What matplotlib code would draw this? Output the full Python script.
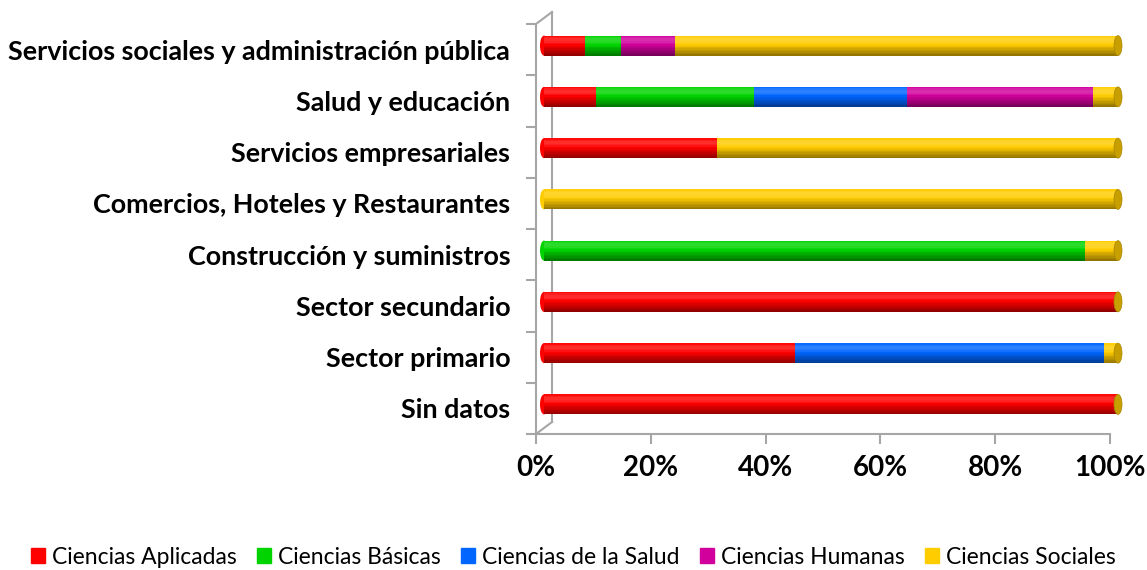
import numpy as np
import matplotlib
matplotlib.use("Agg")
import matplotlib.pyplot as plt
from matplotlib.patches import Ellipse
from matplotlib.transforms import ScaledTranslation

categories = [
    "Sin datos",
    "Sector primario",
    "Sector secundario",
    "Construcción y suministros",
    "Comercios, Hoteles y Restaurantes",
    "Servicios empresariales",
    "Salud y educación",
    "Servicios sociales y administración pública",
]

series_names = [
    "Ciencias Aplicadas",
    "Ciencias Básicas",
    "Ciencias de la Salud",
    "Ciencias Humanas",
    "Ciencias Sociales",
]

# percentage per category (same order as categories)
aplicadas = [100, 43.8, 100, 0, 0, 30.2, 9.1, 7.2]
basicas = [0, 0, 0, 94.2, 0, 0, 27.4, 6.2]
salud = [0, 53.8, 0, 0, 0, 0, 26.7, 0]
humanas = [0, 0, 0, 0, 0, 0, 32.4, 9.5]
sociales = [0, 2.4, 0, 5.8, 100, 69.8, 4.4, 77.1]

colors = ["#ff0000", "#00d400", "#0066ff", "#d1009c", "#ffcc00"]
cap_color = "#c79f00"
axis_gray = "#a6a6a6"

plt.rcParams["font.family"] = ["Lato", "DejaVu Sans"]

fig = plt.figure(figsize=(11.47, 5.70), dpi=100)
ax = fig.add_axes([536 / 1147, 136 / 570, 574 / 1147, 410 / 570])

ax.set_xlim(0, 100)
ax.set_ylim(-0.5, len(categories) - 0.5)

# bars sit half way into the 3D depth
bar_shift = ax.transData + ScaledTranslation(8 / 100, 4 / 100, fig.dpi_scale_trans)
BAR_H = 0.39

data = np.array([aplicadas, basicas, salud, humanas, sociales])
y = np.arange(len(categories))
lefts = np.zeros(len(categories))

px_per_x = 574 / 100
cap_w = 8 / px_per_x

for i, vals in enumerate(data):
    ax.barh(y, vals, left=lefts, height=BAR_H, color=colors[i],
            transform=bar_shift, linewidth=0, zorder=3, clip_on=False)
    lefts = lefts + vals

# cylinder-like shading
n_bands = 14
edges = np.linspace(-BAR_H / 2, BAR_H / 2, n_bands + 1)
for k in range(n_bands):
    t = (k + 0.5) / n_bands  # 0 bottom -> 1 top
    if t < 0.55:
        col, a = "black", 0.45 * (0.55 - t) / 0.55
    else:
        col, a = "white", 0.18 * np.sin((t - 0.55) / 0.45 * np.pi)
    h = edges[k + 1] - edges[k]
    ax.barh(y + (edges[k] + edges[k + 1]) / 2, lefts, height=h, color=col,
            alpha=a, transform=bar_shift, linewidth=0, zorder=4, clip_on=False)

# rounded left ends and right caps
for yi in y:
    first = colors[int(np.argmax(data[:, yi] > 0))]
    ax.add_patch(Ellipse((0, yi), cap_w, BAR_H, color=first,
                         transform=bar_shift, zorder=2, linewidth=0,
                         clip_on=False))
    ax.add_patch(Ellipse((100, yi), cap_w, BAR_H, facecolor=cap_color,
                         edgecolor="#a88600", linewidth=0.5,
                         transform=bar_shift, zorder=5, clip_on=False))

# front axes
for side in ["top", "right"]:
    ax.spines[side].set_visible(False)
for side in ["left", "bottom"]:
    ax.spines[side].set_color(axis_gray)
    ax.spines[side].set_linewidth(1.5)

# back wall of the 3D box
back = ax.transData + ScaledTranslation(16 / 100, 12 / 100, fig.dpi_scale_trans)
ytop = len(categories) - 0.5
ax.plot([0, 0], [-0.5, ytop], color=axis_gray, lw=1.5, transform=back,
        clip_on=False, zorder=1)
inv = ax.transData.inverted()
for yy in [-0.5, ytop]:
    p1 = inv.transform(back.transform((0, yy)))
    ax.plot([0, p1[0]], [yy, p1[1]], color=axis_gray, lw=1.5,
            clip_on=False, zorder=1)

ax.set_yticks(y)
ax.set_yticklabels(categories, fontsize=19.4, fontweight="bold")
ax.set_yticks(np.arange(-0.5, len(categories)), minor=True)
ax.tick_params(axis="y", which="major", length=0, pad=18.5)
ax.tick_params(axis="y", which="minor", length=7, width=1.5, color=axis_gray)

ax.set_xticks(np.arange(0, 101, 20))
ax.set_xticklabels([f"{v}%" for v in range(0, 101, 20)], fontsize=20,
                   fontweight="bold")
ax.tick_params(axis="x", length=7, width=1.5, color=axis_gray, direction="out",
               pad=8)

handles = [plt.Rectangle((0, 0), 1, 1, color=c) for c in colors]
fig.legend(handles, series_names, loc="center", bbox_to_anchor=(0.5, 13 / 570),
           ncol=5, frameon=False, fontsize=16.5, handlelength=0.6,
           handleheight=0.6, handletextpad=0.3, columnspacing=0.9)

fig.savefig("out.png", dpi=100)
